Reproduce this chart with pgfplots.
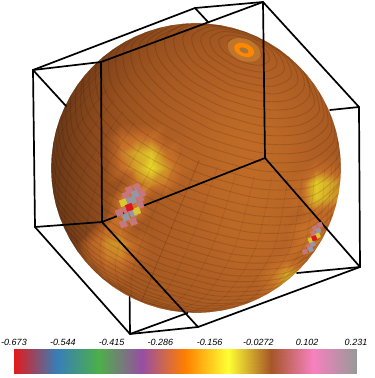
\documentclass[border=0pt]{standalone}
\usepackage{fontspec}
\setmainfont{Liberation Sans}
\usepackage{pgfplots}
\pgfplotsset{compat=1.18}

% rings of constant latitude: t runs across the pole axis, s along it
\pgfplotsset{ringline/.style={black,opacity=0.13,line width=0.9pt,smooth,forget plot},
  merline/.style={black,opacity=0.08,line width=0.7pt,smooth,forget plot}}
\newcommand{\ring}[2][]{\addplot[ringline,#1] table[row sep=\\,
  x expr={196+0.378*\thisrow{s}+0.926*\thisrow{t}},
  y expr={168-0.926*\thisrow{s}+0.378*\thisrow{t}}] {t s\\ #2};}
% half a curve, drawn on both sides of the pole axis
\newcommand{\both}[2]{\addplot[#1] table[row sep=\\,
  x expr={196+0.378*\thisrow{s}+0.926*\thisrow{t}},
  y expr={168-0.926*\thisrow{s}+0.378*\thisrow{t}}] {t s\\ #2};
  \addplot[#1] table[row sep=\\,
  x expr={196+0.378*\thisrow{s}-0.926*\thisrow{t}},
  y expr={168-0.926*\thisrow{s}-0.378*\thisrow{t}}] {t s\\ #2};}
\newcommand{\blob}[2]{\addplot[fill=#1,draw=none,smooth cycle,forget plot] table[row sep=\\,
  x expr={196+0.378*\thisrow{s}+0.926*\thisrow{t}},
  y expr={168-0.926*\thisrow{s}+0.378*\thisrow{t}}] {t s\\ #2};}

\definecolor{tilepink}{RGB}{200,118,125}
\definecolor{tilegray}{RGB}{150,150,165}
\definecolor{tileyellow}{RGB}{215,200,50}
\definecolor{tilered}{RGB}{225,20,30}
\definecolor{spotouter}{RGB}{190,118,44}
\definecolor{spotring}{RGB}{255,135,0}
\definecolor{spotinner}{RGB}{170,115,55}

\begin{document}
\begin{tikzpicture}
\path[use as bounding box] (0,0) rectangle (375pt,378pt);
\begin{axis}[name=main,hide axis,scale only axis,width=375pt,height=378pt,
  xmin=0,xmax=375,ymin=0,ymax=378,y dir=reverse,clip=true,
  colormap={sphere}{rgb255=(85,45,20) rgb255=(102,54,22) rgb255=(120,63,25) rgb255=(138,72,28)
    rgb255=(155,82,31) rgb255=(168,90,34) rgb255=(180,98,37) rgb255=(198,112,40)
    rgb255=(212,160,40) rgb255=(228,205,40) rgb255=(250,240,40)},
  colormap name=sphere,point meta min=0,point meta max=10]

% sphere colour field
\addplot[surf,shader=interp,mesh/cols=21,mesh/ordering=x varies,point meta=\thisrow{c},forget plot] table[row sep=\\] {x y c\\
46 18 .5\\ 61 18 .5\\ 76 18 .5\\ 91 18 .9\\ 106 18 1.5\\ 121 18 2.1\\ 136 18 2.6\\ 151 18 3\\ 166 18 3.4\\ 181 18 3.7\\ 196 18 4\\ 211 18 4.2\\ 226 18 4.4\\ 241 18 4.5\\ 256 18 4.5\\ 271 18 4.4\\ 286 18 4.2\\ 301 18 3.9\\ 316 18 3.5\\ 331 18 3\\ 346 18 2.5\\
46 33 .5\\ 61 33 .5\\ 76 33 .5\\ 91 33 1.1\\ 106 33 1.7\\ 121 33 2.3\\ 136 33 2.8\\ 151 33 3.2\\ 166 33 3.6\\ 181 33 3.9\\ 196 33 4.2\\ 211 33 4.4\\ 226 33 4.6\\ 241 33 4.7\\ 256 33 4.7\\ 271 33 4.6\\ 286 33 4.4\\ 301 33 4.1\\ 316 33 3.7\\ 331 33 3.2\\ 346 33 2.7\\
46 48 1\\ 61 48 1\\ 76 48 1\\ 91 48 1.6\\ 106 48 2.2\\ 121 48 2.8\\ 136 48 3.3\\ 151 48 3.7\\ 166 48 4.1\\ 181 48 4.4\\ 196 48 4.7\\ 211 48 4.9\\ 226 48 5.1\\ 241 48 5.2\\ 256 48 5.2\\ 271 48 5.1\\ 286 48 4.9\\ 301 48 4.6\\ 316 48 4.2\\ 331 48 3.7\\ 346 48 3.2\\
46 63 1\\ 61 63 1\\ 76 63 1.3\\ 91 63 2\\ 106 63 2.6\\ 121 63 3.2\\ 136 63 3.7\\ 151 63 4.1\\ 166 63 4.5\\ 181 63 4.8\\ 196 63 5.1\\ 211 63 5.3\\ 226 63 5.5\\ 241 63 5.6\\ 256 63 5.6\\ 271 63 5.5\\ 286 63 5.3\\ 301 63 5\\ 316 63 4.6\\ 331 63 4.1\\ 346 63 3.6\\
46 78 1\\ 61 78 1\\ 76 78 1.6\\ 91 78 2.3\\ 106 78 2.9\\ 121 78 3.5\\ 136 78 4\\ 151 78 4.4\\ 166 78 4.8\\ 181 78 5.1\\ 196 78 5.4\\ 211 78 5.6\\ 226 78 5.8\\ 241 78 5.9\\ 256 78 5.9\\ 271 78 5.8\\ 286 78 5.6\\ 301 78 5.3\\ 316 78 4.9\\ 331 78 4.4\\ 346 78 3.9\\
46 93 1\\ 61 93 1.2\\ 76 93 1.9\\ 91 93 2.6\\ 106 93 3.2\\ 121 93 3.8\\ 136 93 4.3\\ 151 93 4.7\\ 166 93 5.1\\ 181 93 5.4\\ 196 93 5.7\\ 211 93 5.9\\ 226 93 6.1\\ 241 93 6.2\\ 256 93 6.2\\ 271 93 6.1\\ 286 93 5.9\\ 301 93 5.6\\ 316 93 5.2\\ 331 93 4.7\\ 346 93 4.2\\
46 108 1\\ 61 108 1.4\\ 76 108 2.1\\ 91 108 2.8\\ 106 108 3.4\\ 121 108 4\\ 136 108 4.5\\ 151 108 4.9\\ 166 108 5.3\\ 181 108 5.6\\ 196 108 5.9\\ 211 108 6.1\\ 226 108 6.3\\ 241 108 6.4\\ 256 108 6.4\\ 271 108 6.3\\ 286 108 6.1\\ 301 108 5.8\\ 316 108 5.4\\ 331 108 4.9\\ 346 108 4.4\\
46 123 1\\ 61 123 1.5\\ 76 123 2.2\\ 91 123 2.9\\ 106 123 3.5\\ 121 123 4.1\\ 136 123 4.6\\ 151 123 5\\ 166 123 5.4\\ 181 123 5.7\\ 196 123 6\\ 211 123 6.2\\ 226 123 6.4\\ 241 123 6.5\\ 256 123 6.5\\ 271 123 6.4\\ 286 123 6.2\\ 301 123 5.9\\ 316 123 5.5\\ 331 123 5\\ 346 123 4.5\\
46 138 1.1\\ 61 138 1.6\\ 76 138 2.3\\ 91 138 3\\ 106 138 3.6\\ 121 138 6.6\\ 136 138 7\\ 151 138 7\\ 166 138 5.5\\ 181 138 5.8\\ 196 138 6.1\\ 211 138 6.3\\ 226 138 6.5\\ 241 138 6.6\\ 256 138 6.6\\ 271 138 6.5\\ 286 138 6.3\\ 301 138 6\\ 316 138 5.6\\ 331 138 5.1\\ 346 138 4.6\\
46 153 1.1\\ 61 153 1.6\\ 76 153 2.3\\ 91 153 3\\ 106 153 3.6\\ 121 153 7.2\\ 136 153 8.2\\ 151 153 8.8\\ 166 153 7\\ 181 153 6\\ 196 153 6.1\\ 211 153 6.3\\ 226 153 6.5\\ 241 153 6.6\\ 256 153 6.6\\ 271 153 6.5\\ 286 153 6.3\\ 301 153 6\\ 316 153 5.6\\ 331 153 5.1\\ 346 153 4.6\\
46 168 1.1\\ 61 168 1.6\\ 76 168 2.3\\ 91 168 3\\ 106 168 3.6\\ 121 168 6.8\\ 136 168 8\\ 151 168 9.3\\ 166 168 7.8\\ 181 168 6.4\\ 196 168 6.1\\ 211 168 6.3\\ 226 168 6.5\\ 241 168 6.6\\ 256 168 6.6\\ 271 168 6.5\\ 286 168 6.3\\ 301 168 6\\ 316 168 6.6\\ 331 168 6.4\\ 346 168 5.5\\
46 183 1.1\\ 61 183 1.6\\ 76 183 2.3\\ 91 183 3\\ 106 183 3.6\\ 121 183 4.2\\ 136 183 7\\ 151 183 7.6\\ 166 183 7.2\\ 181 183 5.8\\ 196 183 6.1\\ 211 183 6.3\\ 226 183 6.5\\ 241 183 6.6\\ 256 183 6.6\\ 271 183 6.5\\ 286 183 6.3\\ 301 183 6.6\\ 316 183 9\\ 331 183 8.2\\ 346 183 7\\
46 198 1.1\\ 61 198 1.6\\ 76 198 2.3\\ 91 198 3\\ 106 198 3.6\\ 121 198 7.2\\ 136 198 7.2\\ 151 198 5.1\\ 166 198 5.5\\ 181 198 5.8\\ 196 198 6.1\\ 211 198 6.3\\ 226 198 6.5\\ 241 198 6.6\\ 256 198 6.6\\ 271 198 6.5\\ 286 198 6.3\\ 301 198 6.6\\ 316 198 8.8\\ 331 198 8\\ 346 198 7\\
46 213 1\\ 61 213 1.5\\ 76 213 2.2\\ 91 213 2.9\\ 106 213 3.5\\ 121 213 7.2\\ 136 213 7.2\\ 151 213 5\\ 166 213 5.4\\ 181 213 5.7\\ 196 213 6\\ 211 213 6.2\\ 226 213 6.4\\ 241 213 6.5\\ 256 213 6.5\\ 271 213 6.4\\ 286 213 6.2\\ 301 213 5.9\\ 316 213 6.6\\ 331 213 6.4\\ 346 213 6\\
46 228 1\\ 61 228 1.5\\ 76 228 2.2\\ 91 228 2.9\\ 106 228 6.6\\ 121 228 6.8\\ 136 228 4.6\\ 151 228 5\\ 166 228 5.4\\ 181 228 5.7\\ 196 228 6\\ 211 228 6.2\\ 226 228 6.4\\ 241 228 6.5\\ 256 228 6.5\\ 271 228 6.4\\ 286 228 6.2\\ 301 228 6.9\\ 316 228 7\\ 331 228 6\\ 346 228 5\\
46 243 1\\ 61 243 1.4\\ 76 243 2.1\\ 91 243 6.2\\ 106 243 7.6\\ 121 243 7.8\\ 136 243 6.4\\ 151 243 5.2\\ 166 243 5.5\\ 181 243 5.7\\ 196 243 5.9\\ 211 243 6.1\\ 226 243 6.3\\ 241 243 6.4\\ 256 243 6.4\\ 271 243 6.3\\ 286 243 6.1\\ 301 243 7\\ 316 243 7.2\\ 331 243 6\\ 346 243 5\\
46 258 1\\ 61 258 1.4\\ 76 258 2.2\\ 91 258 5.6\\ 106 258 7.2\\ 121 258 7.4\\ 136 258 6.2\\ 151 258 5.2\\ 166 258 5.4\\ 181 258 5.6\\ 196 258 5.8\\ 211 258 6\\ 226 258 6.2\\ 241 258 6.3\\ 256 258 6.3\\ 271 258 6.2\\ 286 258 6.6\\ 301 258 6.2\\ 316 258 5.6\\ 331 258 5\\ 346 258 4.5\\
46 273 1\\ 61 273 1.5\\ 76 273 2.5\\ 91 273 3.6\\ 106 273 5.8\\ 121 273 6\\ 136 273 5\\ 151 273 5\\ 166 273 5.2\\ 181 273 5.4\\ 196 273 5.6\\ 211 273 5.8\\ 226 273 6\\ 241 273 6.1\\ 256 273 6.1\\ 271 273 7\\ 286 273 8\\ 301 273 7.5\\ 316 273 6\\ 331 273 5\\ 346 273 4.5\\
46 288 1\\ 61 288 1.5\\ 76 288 2.5\\ 91 288 3.6\\ 106 288 4.4\\ 121 288 4.6\\ 136 288 4.8\\ 151 288 4.9\\ 166 288 5.1\\ 181 288 5.2\\ 196 288 5.4\\ 211 288 5.6\\ 226 288 5.8\\ 241 288 5.9\\ 256 288 5.9\\ 271 288 7\\ 286 288 8\\ 301 288 7.5\\ 316 288 6\\ 331 288 5\\ 346 288 4.5\\
46 303 1\\ 61 303 1.5\\ 76 303 2.5\\ 91 303 3.5\\ 106 303 4.2\\ 121 303 4.4\\ 136 303 4.6\\ 151 303 4.7\\ 166 303 4.9\\ 181 303 5\\ 196 303 5.2\\ 211 303 5.4\\ 226 303 5.6\\ 241 303 5.7\\ 256 303 5.7\\ 271 303 5.8\\ 286 303 6\\ 301 303 6\\ 316 303 5.5\\ 331 303 5\\ 346 303 4.5\\
46 318 1\\ 61 318 1.5\\ 76 318 2.5\\ 91 318 3.4\\ 106 318 4\\ 121 318 4.2\\ 136 318 4.4\\ 151 318 4.5\\ 166 318 4.7\\ 181 318 4.8\\ 196 318 5\\ 211 318 5.2\\ 226 318 5.4\\ 241 318 5.5\\ 256 318 5.5\\ 271 318 5.6\\ 286 318 5.8\\ 301 318 5.8\\ 316 318 5.4\\ 331 318 5\\ 346 318 4.5\\
};

% meridians, left out close to the pole where the reference shows only rings
\both{merline}{0 8.5\\ 0 -65\\ 0 -121.1\\ 0 -145\\}
\both{merline}{19.6 9.2\\ 22.6 -64.2\\ 19.6 -120.4\\ 10.2 -144.6\\}
\both{merline}{38.8 11.3\\ 44.8 -61.8\\ 38.8 -118.3\\ 20.9 -143.5\\}
\both{merline}{57 14.6\\ 65.8 -57.9\\ 57 -115\\ 32.2 -141.3\\}
\both{merline}{73.9 19.3\\ 85.3 -52.6\\ 73.9 -110.3\\ 44.9 -137.9\\}
\both{merline}{88.8 25\\ 102.5 -46\\ 88.8 -104.6\\ 59.3 -132.4\\}
\both{merline}{101.6 31.7\\ 117.3 -38.2\\ 101.6 -97.9\\ 76 -123.4\\}
\both{merline}{111.9 39.2\\ 129.2 -29.5\\ 111.9 -90.4\\ 95.7 -109\\}
\both{merline}{119.4 47.4\\ 137.9 -20.1\\ 117.4 -85.1\\}
\both{merline}{124.1 56\\ 143.3 -10.1\\ 136.8 -48.2\\}
\both{merline}{125.6 64.8\\ 145 0\\}
\both{merline}{124.1 73.6\\ 136.8 48.2\\}

% latitude rings around the pole
\ring[smooth cycle]{18.2 128.6\\ 12.9 134.3\\ 0 136.7\\ -12.9 134.3\\ -18.2 128.6\\ -12.9 122.9\\ 0 120.5\\ 12.9 122.9\\}
\ring[smooth cycle]{36 125.5\\ 25.5 137\\ 0 141.7\\ -25.5 137\\ -36 125.5\\ -25.5 114\\ 0 109.3\\ 25.5 114\\}
\ring[smooth cycle]{53.4 120.5\\ 37.8 137.4\\ 0 144.4\\ -37.8 137.4\\ -53.4 120.5\\ -37.8 103.6\\ 0 96.6\\ 37.8 103.6\\}
\ring{-28.4 142.2\\ -60.4 129.3\\ -69.8 113.6\\ -60.4 98\\ -34.9 86.5\\ 0 82.3\\ 34.9 86.5\\ 60.4 98\\ 69.8 113.6\\ 60.4 129.3\\ 28.4 142.2\\}
\ring{-61.7 131.1\\ -85.2 104.8\\ -73.8 85.7\\ -42.6 71.7\\ 0 66.6\\ 42.6 71.7\\ 73.8 85.7\\ 85.2 104.8\\ 61.7 131.1\\}
\ring{-84.1 118.1\\ -99.2 94.5\\ -85.9 72.3\\ -49.6 56\\ 0 50\\ 49.6 56\\ 85.9 72.3\\ 99.2 94.5\\ 84.1 118.1\\}
\ring{-101.7 103.4\\ -111.8 82.6\\ -96.8 57.6\\ -55.9 39.2\\ 0 32.5\\ 55.9 39.2\\ 96.8 57.6\\ 111.8 82.6\\ 101.7 103.4\\}
\ring{-116.1 86.9\\ -122.4 69.5\\ -106 42\\ -61.2 22\\ 0 14.6\\ 61.2 22\\ 106 42\\ 122.4 69.5\\ 116.1 86.9\\}
\ring{-127.5 69\\ -131.2 55.2\\ -113.6 25.8\\ -65.6 4.3\\ 0 -3.6\\ 65.6 4.3\\ 113.6 25.8\\ 131.2 55.2\\ 127.5 69\\}
\ring{-136 50\\ -137.9 40\\ -119.4 9.1\\ -69 -13.5\\ 0 -21.8\\ 69 -13.5\\ 119.4 9.1\\ 137.9 40\\ 136 50\\}
\ring{-141.7 30.4\\ -123.3 -7.6\\ -71.2 -30.9\\ 0 -39.5\\ 71.2 -30.9\\ 123.3 -7.6\\ 141.7 30.4\\}
\ring{-144.6 10.2\\ -125.3 -24.3\\ -72.4 -48\\ 0 -56.7\\ 72.4 -48\\ 125.3 -24.3\\ 144.6 10.2\\}
\ring{-144.6 -10.2\\ -125.3 -40.7\\ -72.4 -64.4\\ 0 -73.1\\ 72.4 -64.4\\ 125.3 -40.7\\ 144.6 -10.2\\}
\ring{-141.7 -30.4\\ -123.3 -56.2\\ -71.2 -79.6\\ 0 -88.1\\ 71.2 -79.6\\ 123.3 -56.2\\ 141.7 -30.4\\}
\ring{-136 -50\\ -119.4 -70.9\\ -69 -93.5\\ 0 -101.8\\ 69 -93.5\\ 119.4 -70.9\\ 136 -50\\}
\ring{-127.5 -69\\ -113.6 -84.6\\ -65.6 -106.1\\ 0 -114\\ 65.6 -106.1\\ 113.6 -84.6\\ 127.5 -69\\}
\ring{-116.1 -86.9\\ -106 -97\\ -61.2 -117\\ 0 -124.4\\ 61.2 -117\\ 106 -97\\ 116.1 -86.9\\}
\ring{-101.7 -103.4\\ -55.9 -126\\ 0 -132.7\\ 55.9 -126\\ 101.7 -103.4\\}
\ring{-84.1 -118.1\\ -49.6 -133\\ 0 -139\\ 49.6 -133\\ 84.1 -118.1\\}
\ring{-61.7 -131.1\\ -36 -139.4\\ 0 -143\\ 36 -139.4\\ 61.7 -131.1\\}
% and the rings between them
\both{ringline}{0 125.2\\ 6.4 126.4\\ 9.1 129.3\\ 6.4 132.2\\ 0 133.4\\}
\both{ringline}{0 115.1\\ 19.2 118.7\\ 27.2 127.3\\ 19.2 135.9\\ 0 139.5\\}
\both{ringline}{0 103.2\\ 31.7 109.1\\ 44.8 123.3\\ 31.7 137.5\\ 0 143.4\\}
\both{ringline}{0 89.6\\ 43.6 97.7\\ 61.7 117.3\\ 43.6 136.9\\ 0 145\\}
\both{ringline}{0 74.6\\ 38.9 79.3\\ 67.3 92\\ 77.7 109.4\\ 67.3 126.8\\ 47.8 136.8\\}
\both{ringline}{0 58.5\\ 46.2 64\\ 80 79.2\\ 92.4 99.9\\ 73.5 125\\}
\both{ringline}{0 41.4\\ 52.9 47.8\\ 91.5 65.1\\ 105.7 88.8\\ 93.2 111.1\\}
\both{ringline}{0 23.6\\ 58.7 30.6\\ 101.6 49.9\\ 117.3 76.2\\ 109.3 95.3\\}
\both{ringline}{0 5.6\\ 63.5 13.2\\ 110 34\\ 127 62.5\\ 122 78.2\\}
\both{ringline}{0 -12.8\\ 67.4 -4.7\\ 116.8 17.4\\ 134.9 47.7\\ 132.2 59.7\\}
\both{ringline}{0 -30.7\\ 70.3 -22.3\\ 121.7 .8\\ 139.3 40.4\\}
\both{ringline}{0 -48.3\\ 71.9 -39.7\\ 124.5 -16\\ 143.5 20.3\\}
\both{ringline}{0 -65\\ 72.5 -56.3\\ 125.6 -32.5\\ 145 0\\}
\both{ringline}{0 -80.7\\ 71.9 -72.1\\ 124.5 -48.4\\ 143.5 -20.3\\}
\both{ringline}{0 -95.3\\ 70.3 -86.9\\ 121.7 -63.8\\ 139.3 -40.4\\}
\both{ringline}{0 -108.2\\ 67.4 -100.1\\ 116.8 -78\\ 132.2 -59.7\\}
\both{ringline}{0 -119.4\\ 63.5 -111.8\\ 110 -91\\ 122 -78.2\\}
\both{ringline}{0 -128.8\\ 58.7 -121.8\\ 101.6 -102.5\\ 109.3 -95.3\\}
\both{ringline}{0 -136.2\\ 52.9 -129.8\\ 93.2 -111.1\\}
\both{ringline}{0 -141.3\\ 46.2 -135.8\\ 73.5 -125\\}
\both{ringline}{0 -144.2\\ 47.8 -136.8\\}

% the spot at the pole
\blob{spotouter}{17.5 127.5\\ 12.4 135\\ 0 138.5\\ -12.4 135\\ -17.5 127.5\\ -12.4 120\\ 0 116.5\\ 12.4 120\\}
\blob{spotring}{10.5 127.5\\ 7.4 132.1\\ 0 134\\ -7.4 132.1\\ -10.5 127.5\\ -7.4 122.9\\ 0 121\\ 7.4 122.9\\}
\blob{spotinner}{5 127\\ 3.5 128.8\\ 0 129.5\\ -3.5 128.8\\ -5 127\\ -3.5 125.2\\ 0 124.5\\ 3.5 125.2\\}

% tiles of the two clusters
\pgfplotsset{tile/.style={only marks,mark=square*,mark size=#1,mark options={rotate=20},forget plot}}
\addplot[tile=3.2,tilepink] coordinates {(129.3,190) (136.7,187.3) (141.7,193.3) (126,195.7) (140,198.3) (119.3,212.7) (133.3,221.7) (123.3,224) (126.7,210) (140,205)};
\addplot[tile=3.2,tilegray] coordinates {(135,194) (132.7,200) (127.3,201.7) (126,217.3) (133.3,213.3)};
\addplot[tile=3.2,tileyellow] coordinates {(123.3,202.7) (136.7,211)};
\addplot[tile=3.2,tilered] coordinates {(129.3,207.3)};
\addplot[tile=2.2,tilepink] coordinates {(320,225) (315,228.3) (313.3,233.3) (309.3,246.7) (305,251.7)};
\addplot[tile=2.2,tilegray] coordinates {(318.3,230.7) (312.7,244) (310.7,249.3)};
\addplot[tile=2.2,tileyellow] coordinates {(317.7,235.7) (310.7,240)};
\addplot[tile=2.2,tilered] coordinates {(314.3,238.3)};

% white outside the limb of the sphere; the seam to the rectangle runs in the white part
\addplot[fill=white,draw=none,even odd rule,forget plot] coordinates {
(30,10) (365,10) (365,328) (30,328) (30,10)
(93.5,65.5) (102.8,56.9) (112.8,49.2) (123.5,42.4) (134.7,36.6) (146.4,31.7) (158.5,27.9) (170.8,25.2) (183.4,23.6) (196,23)
(208.6,23.6) (221.2,25.2) (233.5,27.9) (245.6,31.7) (257.3,36.6) (268.5,42.4) (279.2,49.2) (289.2,56.9) (298.5,65.5) (307.1,74.8) (314.8,84.8) (321.6,95.5) (327.4,106.7) (332.3,118.4) (336.1,130.5) (338.8,142.8) (340.4,155.4) (341,168)
(340.4,180.6) (338.8,193.2) (336.1,205.5) (332.3,217.6) (327.4,229.3) (321.6,240.5) (314.8,251.2) (307.1,261.2) (298.5,270.5) (289.2,279.1) (279.2,286.8) (268.5,293.6) (257.3,299.4) (245.6,304.3) (233.5,308.1) (221.2,310.8) (208.6,312.4) (196,313)
(183.4,312.4) (170.8,310.8) (158.5,308.1) (146.4,304.3) (134.7,299.4) (123.5,293.6) (112.8,286.8) (102.8,279.1) (93.5,270.5) (84.9,261.2) (77.2,251.2) (70.4,240.5) (64.6,229.3) (59.7,217.6) (55.9,205.5) (53.2,193.2) (51.6,180.6) (51,168)
(51.6,155.4) (53.2,142.8) (55.9,130.5) (59.7,118.4) (64.6,106.7) (70.4,95.5) (77.2,84.8) (84.9,74.8) (93.5,65.5)
(30,10)};

% box edges: back ones only where they clear the sphere, then the front ones
\pgfplotsset{edge/.style={black,line width=1.7pt,line join=round,line cap=round,forget plot}}
\addplot[edge] coordinates {(263,2) (195,8) (33,70) (35,227) (130,334) (198,327)};
\addplot[edge] coordinates {(33,70) (101,62)};
\addplot[edge] coordinates {(35,227) (102,222)};
\addplot[edge] coordinates {(33,70) (66,106)};
\addplot[edge] coordinates {(195,8) (208,22)};
\addplot[edge] coordinates {(330,110) (359,107)};
\addplot[edge] coordinates {(129.6,297) (130,334) (187.5,313)};
\addplot[edge] coordinates {(297,273) (360,267)};
\addplot[edge] coordinates {(101,62) (263,2) (359,107) (360,267) (198,327) (102,222) (101,62)};
\addplot[edge] coordinates {(263,2) (265,158) (360,267)};
\addplot[edge] coordinates {(265,158) (102,222)};
\end{axis}

% colour bar
\begin{axis}[at={(14pt,4.3pt)},anchor=south west,scale only axis,width=342pt,height=24.7pt,
  xmin=-0.673,xmax=0.231,ymin=0,ymax=1,hide y axis,
  axis line style={draw=none},tick style={draw=none},axis x line*=top,
  xtick={-0.673,-0.544,-0.415,-0.286,-0.156,-0.0272,0.102,0.231},
  xticklabels={-0.673,-0.544,-0.415,-0.286,-0.156,-0.0272,0.102,0.231},
  xticklabel style={font=\fontsize{9}{10}\selectfont\itshape,inner xsep=0pt},
  colormap={set1}{rgb255=(228,26,28) rgb255=(55,126,184) rgb255=(77,175,74) rgb255=(152,78,163)
    rgb255=(255,127,0) rgb255=(255,255,51) rgb255=(166,86,40) rgb255=(247,129,191) rgb255=(153,153,153)},
  colormap name=set1,point meta min=-0.673,point meta max=0.231]
\addplot[surf,shader=interp,mesh/cols=9,mesh/ordering=x varies,point meta=x,forget plot] table[row sep=\\] {x y\\
-0.673 0\\ -0.560 0\\ -0.447 0\\ -0.334 0\\ -0.221 0\\ -0.108 0\\ 0.005 0\\ 0.118 0\\ 0.231 0\\
-0.673 1\\ -0.560 1\\ -0.447 1\\ -0.334 1\\ -0.221 1\\ -0.108 1\\ 0.005 1\\ 0.118 1\\ 0.231 1\\
};
\end{axis}
\end{tikzpicture}
\end{document}
